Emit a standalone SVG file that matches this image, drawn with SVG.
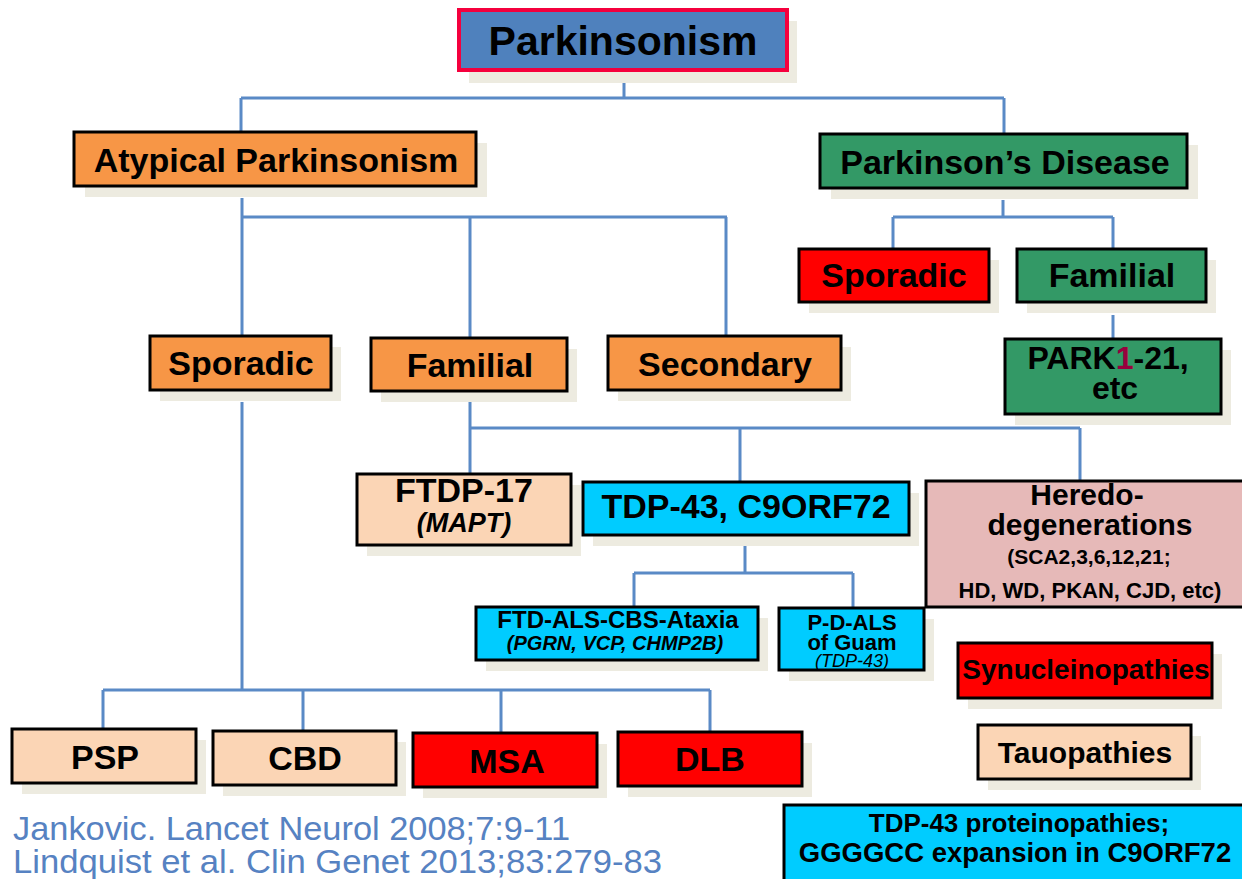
<svg xmlns="http://www.w3.org/2000/svg" width="1242" height="879" viewBox="0 0 1242 879">
<style>
.sh{fill:#edebe0}
.bx{stroke:#000;stroke-width:3}
.t{font-family:"Liberation Sans",Arial,sans-serif;font-weight:bold;fill:#000;text-anchor:middle}
.orange{fill:#f79646}
.green{fill:#339966}
.red{fill:#ff0000}
.peach{fill:#fbd5b5}
.cyan{fill:#00ccff}
.pink{fill:#e6b9b8}
.ln{fill:none;stroke:#5a8ac6;stroke-width:3}
.ref{font-family:"Liberation Sans",Arial,sans-serif;fill:#5682c2;font-size:34px}
</style>
<rect width="1242" height="879" fill="#fff"/>
<g id="connectors" class="ln">
<path d="M624 82V98M241 98H1004M241 98V131M1004 98V133"/>
<path d="M242 198V217H727M242 217V335M470 217V337M726 217V335"/>
<path d="M1003 200V217M893 217H1113M893 217V248M1113 217V248"/>
<path d="M1113 315V338"/>
<path d="M242 402V690M103 690H710M103 690V728M303 690V730M501 690V732M710 690V731"/>
<path d="M470 402V428H1080M470 428V473M740 428V481M1080 428V480"/>
<path d="M745 544V573M634 573H853M634 573V606M853 573V607"/>
</g>
<g id="parkinsonism">
<rect class="sh" x="469" y="21" width="328" height="62"/>
<rect x="459" y="10" width="328" height="60" fill="#4f81bd" stroke="#f5003d" stroke-width="4"/>
<text class="t" x="623" y="55" font-size="41">Parkinsonism</text>
</g>
<g id="atypical">
<rect class="sh" x="85" y="143" width="402" height="54"/>
<rect class="bx orange" x="74" y="132" width="402" height="54"/>
<text class="t" x="276" y="172" font-size="34">Atypical Parkinsonism</text>
</g>
<g id="pd">
<rect class="sh" x="831" y="145" width="367" height="54"/>
<rect class="bx green" x="820" y="134" width="367" height="54"/>
<text class="t" x="1005" y="174" font-size="34">Parkinson’s Disease</text>
</g>
<g id="pd-sporadic">
<rect class="sh" x="809" y="260" width="190" height="53"/>
<rect class="bx red" x="799" y="249" width="190" height="53"/>
<text class="t" x="894" y="287" font-size="34">Sporadic</text>
</g>
<g id="pd-familial">
<rect class="sh" x="1027" y="260" width="189" height="53"/>
<rect class="bx green" x="1017" y="249" width="189" height="53"/>
<text class="t" x="1112" y="287" font-size="34">Familial</text>
</g>
<g id="park">
<rect class="sh" x="1015" y="350" width="216" height="75"/>
<rect class="bx green" x="1005" y="339" width="216" height="75"/>
<text class="t" x="1108" y="369" font-size="32">PARK<tspan fill="#99003d">1</tspan>-21,</text>
<text class="t" x="1115" y="399" font-size="32">etc</text>
</g>
<g id="sporadic">
<rect class="sh" x="160" y="347" width="181" height="54"/>
<rect class="bx orange" x="150" y="336" width="181" height="54"/>
<text class="t" x="241" y="375" font-size="34">Sporadic</text>
</g>
<g id="familial">
<rect class="sh" x="381" y="349" width="196" height="53"/>
<rect class="bx orange" x="371" y="338" width="196" height="53"/>
<text class="t" x="470" y="377" font-size="34">Familial</text>
</g>
<g id="secondary">
<rect class="sh" x="618" y="347" width="233" height="54"/>
<rect class="bx orange" x="608" y="336" width="233" height="54"/>
<text class="t" x="725" y="376" font-size="34">Secondary</text>
</g>
<g id="ftdp17">
<rect class="sh" x="367" y="485" width="214" height="71"/>
<rect class="bx peach" x="357" y="474" width="214" height="71"/>
<text class="t" x="464" y="502" font-size="34">FTDP-17</text>
<text class="t" x="464" y="532" font-size="27" font-style="italic">(MAPT)</text>
</g>
<g id="tdp43">
<rect class="sh" x="593" y="493" width="326" height="53"/>
<rect class="bx cyan" x="583" y="482" width="326" height="53"/>
<text class="t" x="746" y="518" font-size="34">TDP-43, C9ORF72</text>
</g>
<g id="heredo">
<rect class="bx pink" x="926" y="481" width="320" height="126"/>
<text class="t" x="1087" y="505" font-size="30">Heredo-</text>
<text class="t" x="1090" y="535" font-size="30">degenerations</text>
<text class="t" x="1089" y="564" font-size="21">(SCA2,3,6,12,21;</text>
<text class="t" x="1090" y="598" font-size="22">HD, WD, PKAN, CJD, etc)</text>
</g>
<g id="ftdals">
<rect class="sh" x="486" y="618" width="282" height="53"/>
<rect class="bx cyan" x="476" y="607" width="282" height="53"/>
<text class="t" x="618" y="628" font-size="24">FTD-ALS-CBS-Ataxia</text>
<text class="t" x="615" y="650" font-size="20" font-style="italic">(PGRN, VCP, CHMP2B)</text>
</g>
<g id="pdals">
<rect class="sh" x="789" y="619" width="145" height="62"/>
<rect class="bx cyan" x="779" y="608" width="145" height="62"/>
<text class="t" x="852" y="630" font-size="22">P-D-ALS</text>
<text class="t" x="852" y="650" font-size="22">of Guam</text>
<text x="852" y="667" font-size="18" font-style="italic" font-family="Liberation Sans, Arial, sans-serif" text-anchor="middle">(TDP-43)</text>
</g>
<g id="synucleinopathies">
<rect class="sh" x="968" y="654" width="254" height="55"/>
<rect class="bx red" x="958" y="643" width="254" height="55"/>
<text class="t" x="1086" y="679" font-size="28">Synucleinopathies</text>
</g>
<g id="tauopathies">
<rect class="sh" x="988" y="736" width="213" height="54"/>
<rect class="bx peach" x="978" y="725" width="213" height="54"/>
<text class="t" x="1085" y="763" font-size="30">Tauopathies</text>
</g>
<g id="tdp-prot">
<rect class="bx cyan" x="784" y="805" width="460" height="90"/>
<text class="t" x="1019" y="832" font-size="26">TDP-43 proteinopathies;</text>
<text class="t" x="1015" y="862" font-size="27.5">GGGGCC expansion in C9ORF72</text>
</g>
<g id="psp">
<rect class="sh" x="22" y="740" width="184" height="54"/>
<rect class="bx peach" x="12" y="729" width="184" height="54"/>
<text class="t" x="105" y="769" font-size="34">PSP</text>
</g>
<g id="cbd">
<rect class="sh" x="223" y="742" width="183" height="54"/>
<rect class="bx peach" x="213" y="731" width="183" height="54"/>
<text class="t" x="305" y="770" font-size="34">CBD</text>
</g>
<g id="msa">
<rect class="sh" x="423" y="744" width="184" height="54"/>
<rect class="bx red" x="413" y="733" width="184" height="54"/>
<text class="t" x="507" y="773" font-size="34">MSA</text>
</g>
<g id="dlb">
<rect class="sh" x="628" y="743" width="184" height="54"/>
<rect class="bx red" x="618" y="732" width="184" height="54"/>
<text class="t" x="710" y="771" font-size="34">DLB</text>
</g>
<g id="refs">
<text class="ref" x="13" y="840" textLength="557" lengthAdjust="spacingAndGlyphs">Jankovic. Lancet Neurol 2008;7:9-11</text>
<text class="ref" x="13" y="873" textLength="649" lengthAdjust="spacingAndGlyphs">Lindquist et al. Clin Genet 2013;83:279-83</text>
</g>
</svg>
